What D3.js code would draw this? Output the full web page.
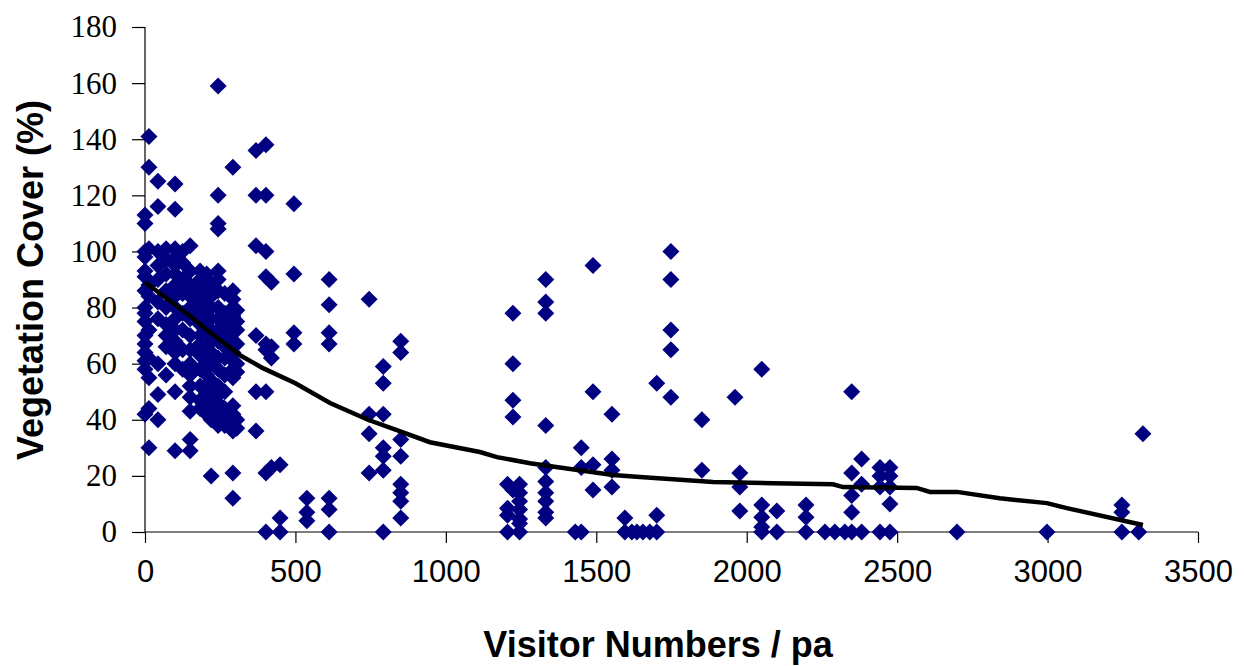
<!DOCTYPE html>
<html>
<head>
<meta charset="utf-8">
<script src="https://cdn.jsdelivr.net/npm/d3@7"></script>
<style>
  body { margin: 0; background: #fff; }
  svg { display: block; }
</style>
</head>
<body>
<div id="chart"></div>
<script>
// visitor numbers for each column of points, and the cover values read at that column
const columnVisitors = [0, 13, 43, 70, 100, 125, 150, 183, 205, 220, 243, 265, 292, 305,
  369, 402, 420, 449, 495, 538, 612, 745, 792, 850,
  1205, 1223, 1245, 1332, 1430, 1450, 1489, 1552, 1595, 1618, 1635, 1655, 1678, 1701,
  1748, 1851, 1961, 1977, 2050, 2100, 2197, 2260, 2293, 2326, 2349, 2382, 2443, 2476,
  2699, 2998, 3247, 3303, 3317]
const columnCover = [
  [113, 110, 100, 98, 93, 91, 86, 80, 78, 75, 70, 67, 64, 61, 58, 42],
  [141, 130, 101, 88, 84, 72, 62, 55, 44, 30],
  [125, 116, 100, 95, 90, 82, 76, 60, 49, 40],
  [101, 97, 92, 86, 80, 74, 70, 66, 56],
  [124, 115, 101, 98, 95, 92, 88, 84, 80, 76, 72, 68, 64, 60, 50, 29],
  [100, 96, 90, 85, 78, 72, 65, 58],
  [102, 93, 88, 84, 80, 76, 70, 65, 60, 56, 52, 48, 43, 33, 29],
  [93, 90, 86, 82, 78, 74, 70, 67, 63, 58, 52, 47, 44],
  [92, 88, 84, 79, 75, 71, 66, 61, 56, 50, 45, 42],
  [88, 84, 80, 76, 72, 68, 64, 60, 54, 50, 46, 42, 40, 20],
  [159, 120, 110, 108, 93, 90, 86, 80, 76, 72, 68, 62, 58, 52, 49, 46, 43, 40, 38],
  [85, 78, 74, 70, 66, 62, 56, 50, 44, 41, 38],
  [130, 86, 83, 80, 77, 74, 71, 68, 64, 61, 58, 55, 45, 42, 39, 36, 21, 12],
  [79, 75, 72, 67, 60, 57, 40, 37],
  [136, 120, 102, 70, 50, 36],
  [138, 120, 100, 91, 67, 65, 50, 21, 0],
  [89, 66, 62, 23],
  [24, 5, 0],
  [117, 92, 71, 67],
  [12, 7, 4],
  [90, 81, 71, 67, 12, 8, 0],
  [83, 42, 35, 21],
  [59, 53, 42, 30, 27, 22, 0],
  [68, 64, 33, 27, 17, 14, 11, 5],
  [17, 8.5, 6, 0],
  [78, 60, 47, 41, 15],
  [17, 14, 11, 8, 4.6, 3, 0],
  [90, 82, 78, 38, 23, 18, 14, 11, 7, 5],
  [0],
  [30, 23, 0],
  [95, 50, 24, 15],
  [42, 26, 22, 16],
  [5, 0],
  [0],
  [0],
  [0],
  [0],
  [53, 6, 0],
  [100, 90, 72, 65, 48],
  [40, 22],
  [48],
  [21, 16, 7.5],
  [58, 9.6, 5.3, 1.8, 0],
  [7.5, 0],
  [9.6, 5.3, 0],
  [0],
  [0],
  [0],
  [50, 21, 13, 7, 0],
  [26, 17, 0],
  [23, 20, 16, 0],
  [23, 20, 16, 10, 0],
  [0],
  [0],
  [9.6, 7, 0],
  [0],
  [35]
]

// moving trend line
const trendVisitors = [0, 150, 206, 316, 392, 500, 615, 741, 837, 947, 1113, 1170, 1280, 1390,
  1555, 1645, 1888, 2087, 2287, 2320, 2565, 2609, 2699, 2841, 2998, 3064, 3317]
const trendCover = [89, 77, 72, 63, 58.4, 53, 46, 40, 36.3, 32, 28.5, 26.7, 24.5, 22.8,
  20.3, 19.6, 17.8, 17.4, 17, 16, 15.7, 14.3, 14.3, 12, 10.3, 8.5, 2.5]

const xTicks = [0, 500, 1000, 1500, 2000, 2500, 3000, 3500]
const yTicks = [0, 20, 40, 60, 80, 100, 120, 140, 160, 180]

const points = columnVisitors.flatMap((v, i) => columnCover[i].map(c => ({x: v, y: c})))
const trend = trendVisitors.map((v, i) => ({x: v, y: trendCover[i]}))

const svg = d3.select("#chart")
  .append("svg")
  .attr("width", 1244)
  .attr("height", 666)

let x = d3.scaleLinear().domain([0, 3500]).range([145, 1198])
let y = d3.scaleLinear().domain([0, 180]).range([532, 27])

// axes
let xAxis = svg.append("g")
  .attr("transform", "translate(0,532)")
  .call(d3.axisBottom(x).tickValues(xTicks).tickSize(11).tickPadding(17).tickFormat(d3.format("d")))
xAxis.selectAll("text")
  .style("font-family", "'Liberation Sans', Arial, sans-serif")
  .style("font-size", "31px")
  .attr("fill", "#000")

let yAxis = svg.append("g")
  .attr("transform", "translate(145,0)")
  .call(d3.axisLeft(y).tickValues(yTicks).tickSize(13).tickPadding(15))
yAxis.selectAll("text")
  .style("font-family", "'Liberation Serif', 'Times New Roman', serif")
  .style("font-size", "31px")
  .attr("fill", "#000")

svg.selectAll(".domain").attr("stroke", "#000").attr("stroke-width", 1.2)
svg.selectAll(".tick line").attr("stroke", "#000").attr("stroke-width", 1.2)
// drop the outer end ticks of the domain path
xAxis.select(".domain").attr("d", "M145,0H1198")
yAxis.select(".domain").attr("d", "M0,27V532")

// diamonds
let diamond = "M0,-8.5L8.5,0L0,8.5L-8.5,0Z"
svg.append("g")
  .selectAll("path")
  .data(points)
  .enter()
  .append("path")
  .attr("d", diamond)
  .attr("transform", d => "translate(" + x(d.x) + "," + y(d.y) + ")")
  .attr("fill", "#000080")

// trend
let line = d3.line().x(d => x(d.x)).y(d => y(d.y))
svg.append("path")
  .datum(trend)
  .attr("d", line)
  .attr("fill", "none")
  .attr("stroke", "#000")
  .attr("stroke-width", 4.5)

// titles
svg.append("text")
  .attr("x", 658)
  .attr("y", 657)
  .attr("text-anchor", "middle")
  .style("font-family", "'Liberation Sans', Arial, sans-serif")
  .style("font-weight", "bold")
  .style("font-size", "36px")
  .text("Visitor Numbers / pa")

svg.append("text")
  .attr("transform", "translate(43,280) rotate(-90)")
  .attr("text-anchor", "middle")
  .style("font-family", "'Liberation Sans', Arial, sans-serif")
  .style("font-weight", "bold")
  .style("font-size", "36px")
  .text("Vegetation Cover (%)")
</script>
</body>
</html>
